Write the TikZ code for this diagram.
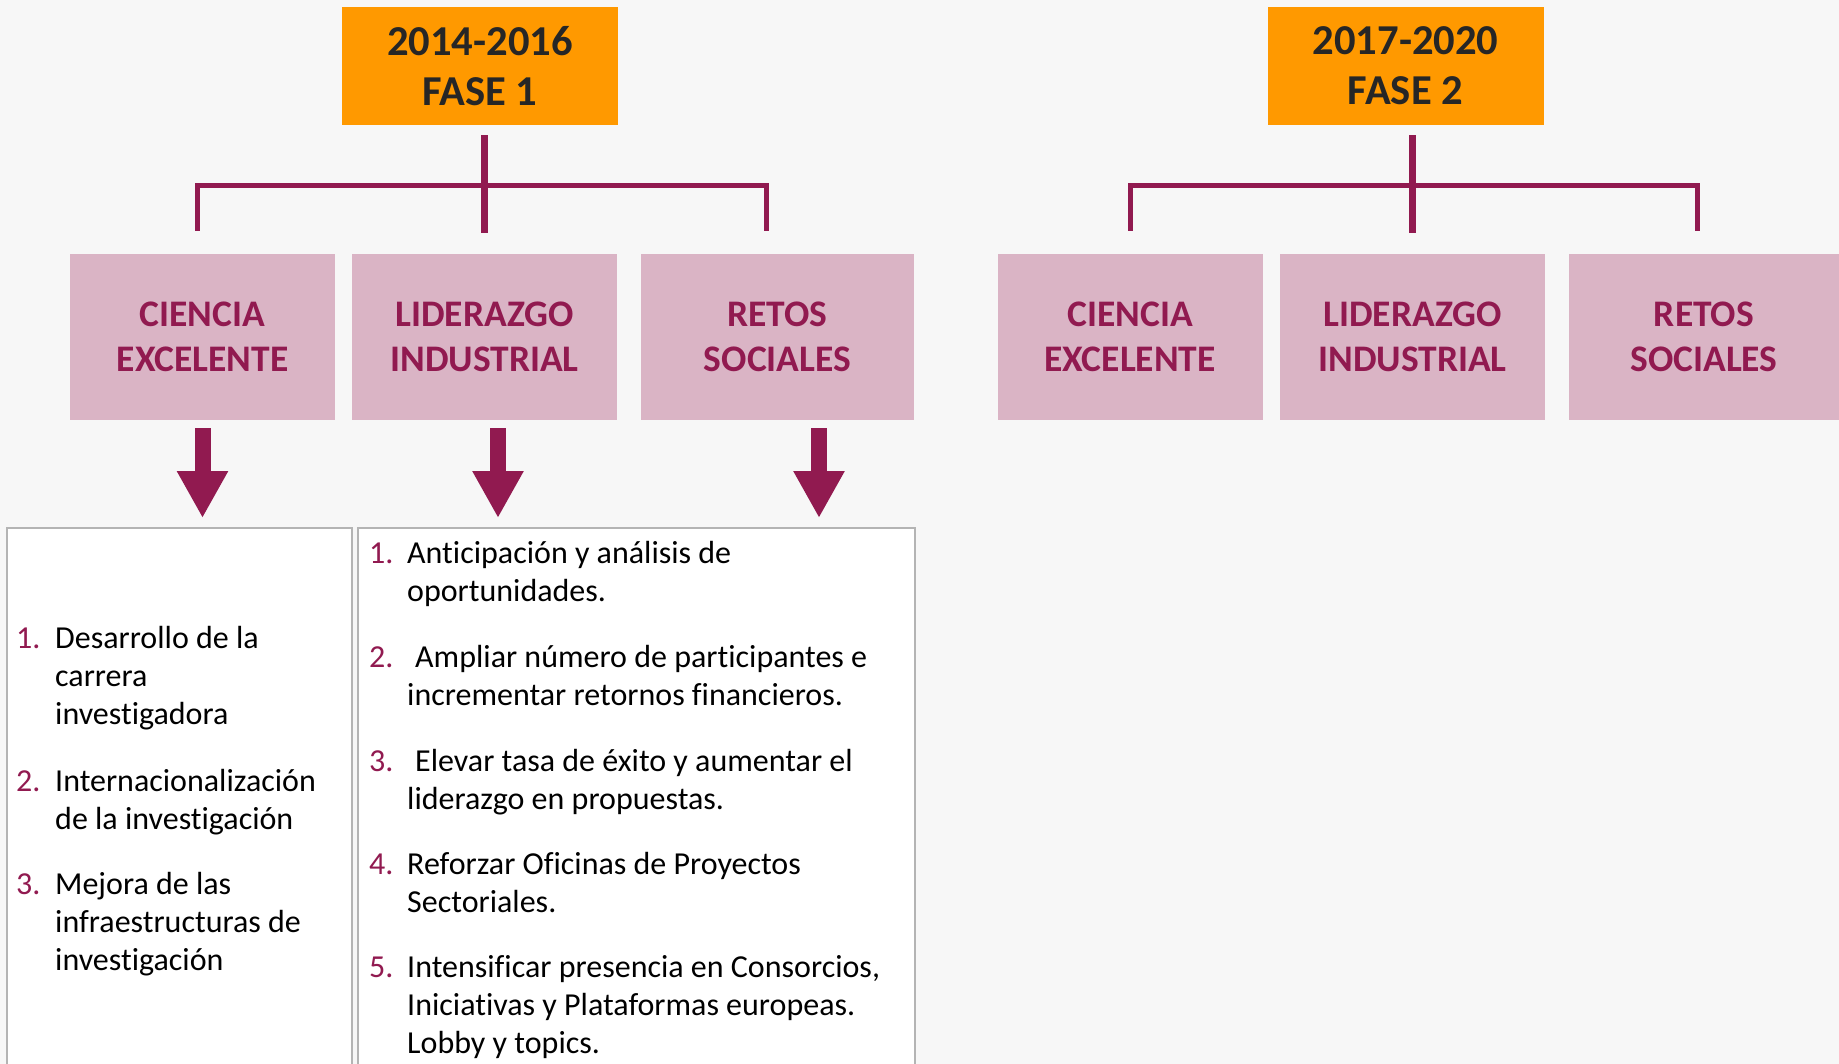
\documentclass[tikz,border=0pt]{standalone}
\usepackage{fontspec}
\setmainfont[Ligatures=NoCommon]{Carlito}
\usetikzlibrary{arrows.meta,calc}

\definecolor{weinrot}{HTML}{911A50}
\definecolor{rosa}{HTML}{DAB4C5}
\definecolor{orangegelb}{HTML}{FF9900}
\definecolor{dunkel}{HTML}{262626}
\definecolor{rahmen}{HTML}{B4B4B4}
\definecolor{hell}{HTML}{F7F7F7}

\newcommand{\listenschrift}{\fontsize{32}{38.3}\selectfont}
\newcommand{\saeulenschrift}{\fontsize{37.5}{45}\selectfont\bfseries}
\newcommand{\fasenschrift}{\fontsize{42.6}{50}\selectfont\bfseries}

\begin{document}
\begin{tikzpicture}[x=1pt, y=-1pt]
  % Hintergrund.
  \fill[hell] (0,0) rectangle (1839,1064);
  \useasboundingbox (0,0) rectangle (1839,1064);
  \clip (0,0) rectangle (1839,1064);

  % Stile.
  \tikzstyle{fase}=[fill=orangegelb, text=dunkel, font=\fasenschrift, align=center, minimum width=276pt, minimum height=118pt, inner sep=0pt]
  \tikzstyle{saeule}=[fill=rosa, text=weinrot, font=\saeulenschrift, align=center, minimum width=265pt, minimum height=166pt, inner sep=0pt]
  \tikzstyle{stamm}=[draw=weinrot, line width=7pt]
  \tikzstyle{ast}=[draw=weinrot, line width=5pt]
  \tikzstyle{pfeil}=[draw=weinrot, line width=16pt, -{Triangle[width=48pt, length=47pt]}]
  \tikzstyle{liste}=[draw=rahmen, fill=white, line width=2pt, anchor=north west, minimum height=560pt, inner sep=0pt]
  \tikzstyle{punkt}=[text=weinrot, font=\listenschrift, anchor=base west, inner sep=0pt]
  \tikzstyle{eintrag}=[font=\listenschrift, anchor=base west, align=left, inner sep=0pt]

  % Fasen.
  \node[fase] (fase1) at (480,66) {2014-2016\\FASE 1};
  \node[fase] (fase2) at (1405.5,66) {2017-2020\\FASE 2};

  % Saeulen.
  \node[saeule] (cien1) at (202.5,337) {CIENCIA\\EXCELENTE};
  \node[saeule] (lid1) at (484.5,337) {LIDERAZGO\\INDUSTRIAL};
  \node[saeule, minimum width=273pt] (ret1) at (777.5,337) {RETOS\\SOCIALES};
  \node[saeule] (cien2) at (1130,337) {CIENCIA\\EXCELENTE};
  \node[saeule] (lid2) at (1412.5,337) {LIDERAZGO\\INDUSTRIAL};
  \node[saeule, minimum width=270pt] (ret2) at (1704,337) {RETOS\\SOCIALES};

  % Baum.
  \coordinate (l1) at ($(cien1.north)+(-5,-23)$);
  \coordinate (r1) at ($(ret1.north)+(-11,-23)$);
  \coordinate (l2) at ($(cien2.north)+(0,-23)$);
  \coordinate (r2) at ($(ret2.north)+(-7,-23)$);

  \draw[ast] (l1) -- ++(0,-45) -| (r1);
  \draw[ast] (l2) -- ++(0,-45) -| (r2);
  \draw[stamm, shorten <=10pt, shorten >=21pt] (fase1.south -| lid1.north) -- (lid1.north);
  \draw[stamm, shorten <=10pt, shorten >=21pt] (fase2.south -| lid2.north) -- (lid2.north);

  % Listen.
  \node[liste, minimum width=345pt] (listeA) at (6,527) {};
  \node[liste, minimum width=557pt] (listeB) at (357,527) {};

  % Pfeile.
  \coordinate (p1) at (cien1.south);
  \coordinate (p2) at ($(lid1.south)+(13.5,0)$);
  \coordinate (p3) at ($(ret1.south)+(41.5,0)$);

  \draw[pfeil, shorten <=8pt, shorten >=9pt] (p1) -- (p1 |- listeA.north);
  \draw[pfeil, shorten <=8pt, shorten >=9pt] (p2) -- (p2 |- listeB.north);
  \draw[pfeil, shorten <=8pt, shorten >=9pt] (p3) -- (p3 |- listeB.north);

  % Ciencia excelente (Text an der letzten Zeile verankert).
  \node[punkt] (a1n) at (16,648) {1.};
  \node[eintrag] (a1) at (55,724.6) {Desarrollo de la\\carrera\\investigadora};
  \node[punkt] (a2n) at (16,791) {2.};
  \node[eintrag] (a2) at (55,829.3) {Internacionalización\\de la investigación};
  \node[punkt] (a3n) at (16,894) {3.};
  \node[eintrag] (a3) at (55,970.6) {Mejora de las\\infraestructuras de\\investigación};

  % Liderazgo industrial.
  \node[punkt] (b1n) at (369,563) {1.};
  \node[eintrag] (b1) at (407,601.3) {Anticipación y análisis de\\oportunidades.};
  \node[punkt] (b2n) at (369,667) {2.};
  \node[eintrag] (b2) at (407,705.3) {\hspace*{8pt}Ampliar número de participantes e\\incrementar retornos financieros.};
  \node[punkt] (b3n) at (369,771) {3.};
  \node[eintrag] (b3) at (407,809.3) {\hspace*{8pt}Elevar tasa de éxito y aumentar el\\liderazgo en propuestas.};
  \node[punkt] (b4n) at (369,874) {4.};
  \node[eintrag] (b4) at (407,912.3) {Reforzar Oficinas de Proyectos\\Sectoriales.};
  \node[punkt] (b5n) at (369,977) {5.};
  \node[eintrag] (b5) at (407,1053.6) {Intensificar presencia en Consorcios,\\Iniciativas y Plataformas europeas.\\Lobby y topics.};
\end{tikzpicture}
\end{document}
